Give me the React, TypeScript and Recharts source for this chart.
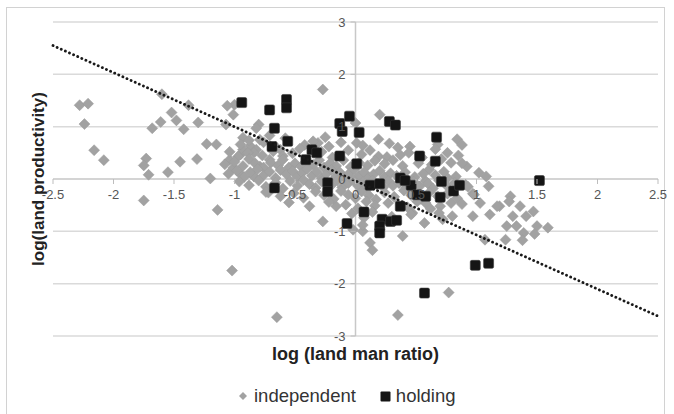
import { ScatterChart, Scatter, XAxis, YAxis, CartesianGrid, ReferenceLine, Legend } from 'recharts';

const FONT = '"Liberation Sans", Arial, sans-serif';

const CHART_W = 674;
const CHART_H = 414;
const MARGIN = { top: 22, right: 16, bottom: 77, left: 52 };
const AXIS_SIZE = 1;
const PLOT_W = CHART_W - MARGIN.left - AXIS_SIZE - MARGIN.right;
const PLOT_H = CHART_H - MARGIN.top - MARGIN.bottom - AXIS_SIZE;
// the axes cross at the origin, which sits in the middle of the plot
const ZERO_X = MARGIN.left + AXIS_SIZE + PLOT_W / 2;
const ZERO_Y = MARGIN.top + PLOT_H / 2;

const xTicks = [-2.5, -2, -1.5, -1, -0.5, 0, 0.5, 1, 1.5, 2, 2.5];
const yTicks = [-3, -2, -1, 0, 1, 2, 3];

// scattered independent farms away from the centre
const independentOuter: [number, number][] = [
  [-2.28, 1.41], [-2.21, 1.44], [-2.24, 1.05], [-2.16, 0.55], [-2.08, 0.36],
  [-1.6, 1.62], [-1.52, 1.27], [-1.48, 1.12], [-1.42, 0.95], [-1.38, 1.41], [-1.3, 1.08],
  [-1.61, 1.09], [-1.68, 0.97], [-1.23, 0.67], [-1.15, 0.66], [-1.07, 1.04], [-1.01, 1.23],
  [-1.0, 1.42], [-1.06, 1.4], [-1.73, 0.39], [-1.75, 0.26], [-1.71, 0.08], [-1.55, 0.13],
  [-1.45, 0.33], [-1.31, 0.38], [-1.2, 0.01], [-1.75, -0.41], [-1.14, -0.59], [-1.02, -1.75],
  [-0.65, -2.64], [-0.27, 1.71], [0.2, 1.23], [0.35, -2.6], [0.77, -2.17],
  [-0.8, 1.04], [-0.93, 0.79], [-0.87, 0.63], [-0.95, 0.47], [-1.04, 0.37], [-1.01, 0.21],
  [-0.95, 0.09], [-0.84, 0.05], [-0.79, 0.24], [-0.71, 0.37], [-0.82, 0.56], [-0.71, 0.83],
  [-0.62, 0.56], [-0.72, -0.26], [-0.82, 0.97], [-0.79, 0.75], [-0.84, 0.5], [-0.93, 0.56],
  [0.19, 0.76], [0.35, 0.6], [0.37, 0.46], [0.19, 0.43], [0.01, 0.69], [0.0, 1.07],
  [-0.25, 0.8], [-0.31, 0.69], [0.76, 0.5], [0.79, 0.31], [0.61, 0.18], [0.58, -0.04],
];

const independentRight: [number, number][] = [
  [0.84, 0.76], [0.88, 0.65], [0.92, 0.24], [0.91, -0.11], [0.97, -0.28], [1.08, 0.05],
  [1.1, -0.14], [1.19, -0.52], [1.28, -0.33], [1.27, -0.43], [1.36, -0.52], [1.41, -0.71],
  [1.47, -0.62], [1.3, -0.71], [1.25, -0.9], [1.33, -0.9], [1.5, -0.9], [1.59, -0.93],
  [1.39, -1.03], [1.38, -1.17], [1.24, -1.16], [1.07, -1.16], [1.03, -0.46], [0.97, -0.71],
  [1.17, -0.52], [0.72, -0.77], [0.8, -0.71], [0.57, -0.84], [0.39, -1.09], [0.12, -1.22],
  [0.14, -1.36], [0.06, -1.0], [-0.27, -0.81], [-0.16, -0.52], [1.11, -0.68], [1.48, -1.05],
  [0.7, -0.52], [0.79, -0.46], [0.69, -0.65], [0.58, -0.46], [0.47, -0.65], [0.76, 0.02],
];

// the dense band around the origin
const independentCluster: [number, number][] = [
  [-0.95, 0.66], [-0.88, 0.74], [-0.76, 0.7], [-0.66, 0.62], [-0.58, 0.78], [-0.42, 0.65],
  [-0.35, 0.72], [-0.22, 0.62], [-0.12, 0.7], [0.06, 0.64], [0.28, 0.68], [0.45, 0.62], [0.68, 0.66],
  [-1.04, 0.52], [-0.97, 0.43], [-0.89, 0.5], [-0.77, 0.45], [-0.68, 0.53], [-0.6, 0.44],
  [-0.52, 0.49], [-0.46, 0.58], [-0.28, 0.52], [-0.19, 0.41], [-0.06, 0.55], [0.05, 0.47],
  [0.12, 0.55], [0.26, 0.42], [0.44, 0.5], [0.55, 0.41], [0.66, 0.57], [0.85, 0.45],
  [-1.08, 0.28], [-1.0, 0.33], [-0.93, 0.25], [-0.88, 0.38], [-0.83, 0.3], [-0.76, 0.22],
  [-0.7, 0.31], [-0.64, 0.26], [-0.6, 0.37], [-0.55, 0.22], [-0.5, 0.3], [-0.45, 0.24],
  [-0.4, 0.33], [-0.35, 0.27], [-0.3, 0.36], [-0.26, 0.22], [-0.21, 0.3], [-0.16, 0.25],
  [-0.1, 0.36], [-0.04, 0.23], [0.03, 0.31], [0.1, 0.26], [0.16, 0.35], [0.24, 0.29],
  [0.31, 0.36], [0.39, 0.25], [0.52, 0.3], [0.63, 0.27], [0.71, 0.38], [0.88, 0.3],
  [-1.05, 0.1], [-0.98, 0.16], [-0.92, 0.04], [-0.87, 0.13], [-0.81, 0.19], [-0.76, 0.07],
  [-0.71, 0.14], [-0.66, 0.02], [-0.62, 0.17], [-0.57, 0.09], [-0.52, 0.15], [-0.48, 0.04],
  [-0.44, 0.12], [-0.4, 0.19], [-0.36, 0.06], [-0.32, 0.14], [-0.28, 0.02], [-0.24, 0.1],
  [-0.2, 0.17], [-0.16, 0.05], [-0.13, 0.13], [-0.09, 0.02], [-0.05, 0.11], [-0.01, 0.18],
  [0.03, 0.06], [0.07, 0.13], [0.11, 0.03], [0.15, 0.09], [0.2, 0.16], [0.24, 0.04],
  [0.29, 0.11], [0.34, 0.06], [0.41, 0.13], [0.49, 0.04], [0.56, 0.1], [0.66, 0.07],
  [0.73, 0.14], [0.83, 0.05], [1.02, 0.12],
  [-0.96, -0.05], [-0.88, -0.12], [-0.8, -0.03], [-0.74, -0.15], [-0.66, -0.07], [-0.6, -0.18],
  [-0.54, -0.04], [-0.48, -0.13], [-0.43, -0.02], [-0.38, -0.1], [-0.33, -0.17], [-0.28, -0.05],
  [-0.2, -0.12], [-0.15, -0.03], [-0.11, -0.16], [-0.06, -0.08], [-0.02, -0.02], [0.02, -0.13],
  [0.06, -0.06], [0.1, -0.18], [0.14, -0.03], [0.18, -0.11], [0.23, -0.16], [0.27, -0.04],
  [0.31, -0.13], [0.36, -0.08], [0.42, -0.17], [0.48, -0.05], [0.53, -0.14], [0.6, -0.09],
  [0.64, -0.18], [0.69, -0.03], [0.75, -0.12], [0.82, -0.07], [0.93, -0.15],
  [-0.74, -0.25], [-0.62, -0.33], [-0.51, -0.27], [-0.43, -0.36], [-0.33, -0.24], [-0.26, -0.31],
  [-0.18, -0.38], [-0.12, -0.23], [-0.06, -0.3], [0.0, -0.37], [0.05, -0.24], [0.11, -0.31],
  [0.17, -0.39], [0.24, -0.26], [0.32, -0.34], [0.4, -0.22], [0.46, -0.31], [0.54, -0.38],
  [0.61, -0.26], [0.68, -0.33], [0.76, -0.28], [0.84, -0.37], [0.98, -0.3],
  [-0.55, -0.45], [-0.38, -0.52], [-0.22, -0.44], [-0.08, -0.49], [0.02, -0.56], [0.09, -0.43],
  [0.16, -0.51], [0.27, -0.46], [0.43, -0.54], [0.51, -0.43], [0.62, -0.57], [0.88, -0.48],
  [-0.03, -0.66], [0.07, -0.74], [0.14, -0.63], [0.46, -0.68], [0.3, -0.72], [0.06, -0.88], [-0.02, -0.97],
];

const holdingPoints: [number, number][] = [
  [-0.94, 1.46], [-0.71, 1.32], [-0.57, 1.52], [-0.57, 1.36], [-0.67, 0.97], [-0.69, 0.62],
  [-0.56, 0.72], [-0.36, 0.56], [-0.32, 0.5], [-0.41, 0.37], [-0.67, -0.17], [-0.23, -0.07],
  [-0.23, -0.24], [-0.13, 1.06], [-0.11, 0.91], [-0.05, 1.2], [0.03, 0.89], [-0.13, 0.44],
  [0.01, 0.29], [0.12, -0.12], [0.2, -0.09], [0.28, 1.1], [0.33, 1.03], [0.37, 0.02],
  [0.37, -0.52], [0.46, -0.12], [0.51, -0.3], [0.58, -0.33], [0.53, 0.44], [0.67, 0.8],
  [0.66, 0.34], [0.71, -0.05], [0.7, -0.35], [0.81, -0.23], [0.86, -0.12], [0.07, -0.63],
  [-0.07, -0.85], [0.22, -0.77], [0.29, -0.81], [0.34, -0.79], [0.2, -0.9], [0.2, -1.03],
  [0.99, -1.65], [1.1, -1.61], [0.57, -2.18], [1.52, -0.03], [0.41, -0.03],
];

const trendPoints: [number, number][] = [[-2.5, 2.55], [2.5, -2.62]];

const toXY = (pts: [number, number][]) => pts.map(([x, y]) => ({ x, y }));
const independentData = toXY([...independentOuter, ...independentRight, ...independentCluster]);
const holdingData = toXY(holdingPoints);
const trendData = toXY(trendPoints);

const Diamond = (props: any) => {
  const { cx, cy } = props;
  const r = 5.5;
  return (
    <polygon
      points={`${cx},${cy - r} ${cx + r},${cy} ${cx},${cy + r} ${cx - r},${cy}`}
      fill="#a2a2a2"
      stroke="#9a9a9a"
      strokeWidth={0.5}
    />
  );
};

const Square = (props: any) => {
  const { cx, cy } = props;
  return <rect x={cx - 5} y={cy - 5} width={10} height={10} rx={1.5} fill="#151515" stroke="#3a3a3a" strokeWidth={0.6} />;
};

const XTick = (props: any) => {
  const { x, payload } = props;
  return (
    <g>
      <line x1={x} x2={x} y1={ZERO_Y} y2={ZERO_Y + 5} stroke="#bdbdbd" />
      <text x={x} y={ZERO_Y + 20} textAnchor="middle" fontSize={13} fontFamily={FONT} fill="#555">
        {payload.value}
      </text>
    </g>
  );
};

const YTick = (props: any) => {
  const { y, payload } = props;
  return (
    <g>
      <line x1={ZERO_X - 5} x2={ZERO_X} y1={y} y2={y} stroke="#bdbdbd" />
      <text x={ZERO_X - 10} y={y + 4.5} textAnchor="end" fontSize={13} fontFamily={FONT} fill="#555">
        {payload.value}
      </text>
    </g>
  );
};

const renderLegend = () => (
  <div style={{ display: 'flex', alignItems: 'center', fontFamily: FONT, fontSize: 18.5, lineHeight: '24px', color: '#333' }}>
    <svg width={10} height={10}>
      <polygon points="5,1 9,5 5,9 1,5" fill="#a2a2a2" />
    </svg>
    <span style={{ marginLeft: 6 }}>independent</span>
    <svg width={11} height={11} style={{ marginLeft: 24 }}>
      <rect x={0.5} y={0.5} width={10} height={10} rx={1} fill="#151515" />
    </svg>
    <span style={{ marginLeft: 5 }}>holding</span>
  </div>
);

export default function App() {
  return (
    <div style={{ position: 'absolute', left: 0, top: 0, width: CHART_W, height: CHART_H, background: '#fff', overflow: 'hidden' }}>
      <div
        style={{
          position: 'absolute', left: 6, top: 7, width: 657, height: 420,
          border: '1px solid #d2d2d2', pointerEvents: 'none',
        }}
      />
      <ScatterChart width={CHART_W} height={CHART_H} margin={MARGIN}>
        <CartesianGrid vertical={false} stroke="#dadada" strokeWidth={1.5} />
        <XAxis
          type="number"
          dataKey="x"
          domain={[-2.5, 2.5]}
          ticks={xTicks}
          height={AXIS_SIZE}
          axisLine={false}
          tickLine={false}
          tickSize={0}
          tickMargin={0}
          tick={<XTick />}
          label={{
            value: 'log (land man ratio)',
            position: 'bottom',
            offset: 10,
            style: { fontFamily: FONT, fontSize: 18, fontWeight: 700, fill: '#222' },
          }}
        />
        <YAxis
          type="number"
          dataKey="y"
          domain={[-3, 3]}
          ticks={yTicks}
          width={AXIS_SIZE}
          axisLine={false}
          tickLine={false}
          tickSize={0}
          tickMargin={0}
          tick={<YTick />}
          label={{
            value: 'log(land productivity)',
            angle: -90,
            position: 'left',
            offset: 14,
            style: { fontFamily: FONT, fontSize: 17, fontWeight: 700, fill: '#222', textAnchor: 'middle' },
          }}
        />
        <ReferenceLine x={0} stroke="#c8c8c8" strokeWidth={1.5} />
        <ReferenceLine y={0} stroke="#cfcfcf" strokeWidth={1.5} />
        <Scatter name="independent" data={independentData} shape={<Diamond />} isAnimationActive={false} />
        <Scatter name="holding" data={holdingData} shape={<Square />} isAnimationActive={false} />
        <Scatter
          name="trend"
          data={trendData}
          shape={() => <g />}
          line={{ stroke: '#1a1a1a', strokeWidth: 2.8, strokeDasharray: '0.1 4.4', strokeLinecap: 'round' }}
          legendType="none"
          isAnimationActive={false}
        />
        <Legend
          verticalAlign="middle"
          content={renderLegend}
          wrapperStyle={{ top: 384, left: 238, width: 260, height: 24 }}
        />
      </ScatterChart>
    </div>
  );
}
